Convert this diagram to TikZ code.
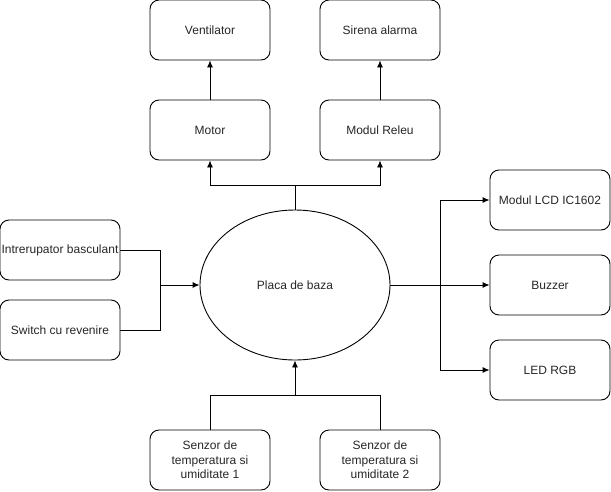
\documentclass[tikz,border=0pt]{standalone}
\usepackage{fontspec}
\setmainfont{Liberation Sans}
\usetikzlibrary{shapes.geometric,arrows.meta}
\begin{document}
\begin{tikzpicture}[x=1pt,y=-1pt,
  blockbox/.style={draw, rounded corners=9pt, minimum width=120pt, minimum height=60pt,
    inner sep=0pt, align=center, line width=0.9pt, text=black!85,
    font=\fontsize{12}{14.5}\selectfont},
  wire/.style={line width=0.9pt},
  arr/.style={wire, -{Latex[length=7pt,width=6pt]}}]
\useasboundingbox (0,0) rectangle (611,491);
% output devices at the top
\node[blockbox] (vent) at (210,30) {Ventilator};
\node[blockbox] (siren) at (380,30) {Sirena alarma};
\node[blockbox] (motor) at (210,130) {Motor};
\node[blockbox] (relay) at (380,130) {Modul Releu};
% switches on the left
\node[blockbox] (toggle) at (60,250) {Intrerupator basculant};
\node[blockbox] (push) at (60,330) {Switch cu revenire};
% main board
\node[draw, ellipse, line width=0.9pt, minimum width=190pt, minimum height=150pt, inner sep=0pt,
  text=black!85, font=\fontsize{12}{14.5}\selectfont] (board) at (295,285) {Placa de baza};
% displays and indicators on the right
\node[blockbox] (lcd) at (550,200) {Modul LCD IC1602};
\node[blockbox] (buzz) at (550,285) {Buzzer};
\node[blockbox] (led) at (550,370) {LED RGB};
% sensors at the bottom
\node[blockbox] (sens1) at (210,460) {Senzor de\\temperatura si\\umiditate 1};
\node[blockbox] (sens2) at (380,460) {Senzor de\\temperatura si\\umiditate 2};
% junction points
\coordinate (topfork) at (295,185);
\coordinate (leftjoin) at (160,285);
\coordinate (rightfork) at (440,285);
\coordinate (bottomjoin) at (295,395);
% connectors
\draw[arr] (motor) -- (vent);
\draw[arr] (relay) -- (siren);
\draw[wire] (board.north) -- (topfork);
\draw[arr] (topfork) -| (motor.south);
\draw[arr] (topfork) -| (relay.south);
\draw[wire] (toggle.east) -| (leftjoin);
\draw[wire] (push.east) -| (leftjoin);
\draw[arr] (leftjoin) -- (board.west);
\draw[arr] (board.east) -- (buzz.west);
\draw[arr] (rightfork) |- (lcd.west);
\draw[arr] (rightfork) |- (led.west);
\draw[wire] (sens1.north) |- (bottomjoin);
\draw[wire] (sens2.north) |- (bottomjoin);
\draw[arr] (bottomjoin) -- (board.south);
\end{tikzpicture}
\end{document}
